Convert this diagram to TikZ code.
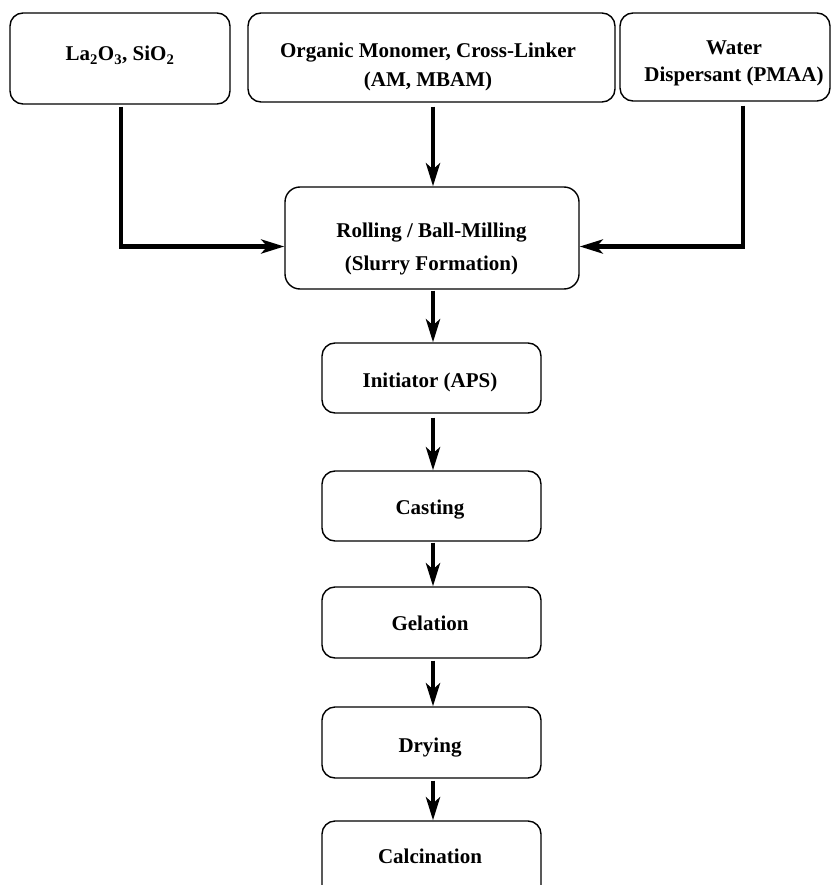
\documentclass[tikz,border=0pt]{standalone}
\usepackage{fontspec}
\setmainfont{Liberation Serif}
\usetikzlibrary{arrows.meta}
\begin{document}
\begin{tikzpicture}[x=1pt,y=-1pt,
  box/.style={draw,line width=1.4pt,rounded corners=13pt,inner sep=0pt},
  txt/.style={anchor=base,inner sep=0pt,font=\fontsize{21}{25}\selectfont\bfseries},
  arr/.style={line width=4.5pt,-{Stealth[length=23pt,width=14pt,inset=6pt]}}]
\clip (0,0) rectangle (832,885);
\fill[white] (0,0) rectangle (832,885);
% boxes
\node[box,minimum width=220pt,minimum height=91pt] (b1) at (120,58.5) {};
\node[box,minimum width=367pt,minimum height=89pt] (b2) at (431.5,57.5) {};
\node[box,minimum width=210pt,minimum height=88pt] (b3) at (725,57) {};
\node[box,minimum width=294pt,minimum height=102pt,rounded corners=15pt] (roll) at (432,238) {};
\node[box,minimum width=219pt,minimum height=70pt] (init) at (431.5,378) {};
\node[box,minimum width=219pt,minimum height=70pt] (cast) at (431.5,506) {};
\node[box,minimum width=219pt,minimum height=71pt] (gel) at (431.5,622.5) {};
\node[box,minimum width=219pt,minimum height=71pt] (dry) at (431.5,742.5) {};
\node[box,minimum width=219pt,minimum height=120pt] (calc) at (431.5,881) {};
% texts
\node[txt] (t1) at (120,61) {La\textsubscript{2}O\textsubscript{3}, SiO\textsubscript{2}};
\node[txt] (t2a) at (428,58) {Organic Monomer, Cross-Linker};
\node[txt] (t2b) at (428,87) {(AM, MBAM)};
\node[txt] (t3a) at (734,55) {Water};
\node[txt] (t3b) at (734,82) {Dispersant (PMAA)};
\node[txt] (tra) at (431.5,237) {Rolling / Ball-Milling};
\node[txt] (trb) at (431.5,270) {(Slurry Formation)};
\node[txt] (ti) at (430,387) {Initiator (APS)};
\node[txt] (tc) at (430,514) {Casting};
\node[txt] (tg) at (430,630) {Gelation};
\node[txt] (td) at (430,752) {Drying};
\node[txt] (tk) at (430,863) {Calcination};
% connectors
\coordinate (c1) at (121,0);
\coordinate (c2) at (433,0);
\coordinate (c3) at (743,0);
\coordinate (h) at (0,246.5);
\draw[arr] ([yshift=-2pt]b1.south -| c1) |- (roll.west |- h);
\draw[arr] ([yshift=-4pt]b3.south -| c3) |- (roll.east |- h);
\draw[arr] ([yshift=-4pt]b2.south -| c2) -- (roll.north -| c2);
\draw[arr] ([yshift=-1pt]roll.south -| c2) -- (init.north -| c2);
\draw[arr] ([yshift=-4pt]init.south -| c2) -- (cast.north -| c2);
\draw[arr] ([yshift=-1pt]cast.south -| c2) -- (gel.north -| c2);
\draw[arr] ([yshift=-2pt]gel.south -| c2) -- (dry.north -| c2);
\draw[arr] ([yshift=-2pt]dry.south -| c2) -- (calc.north -| c2);
\end{tikzpicture}
\end{document}
